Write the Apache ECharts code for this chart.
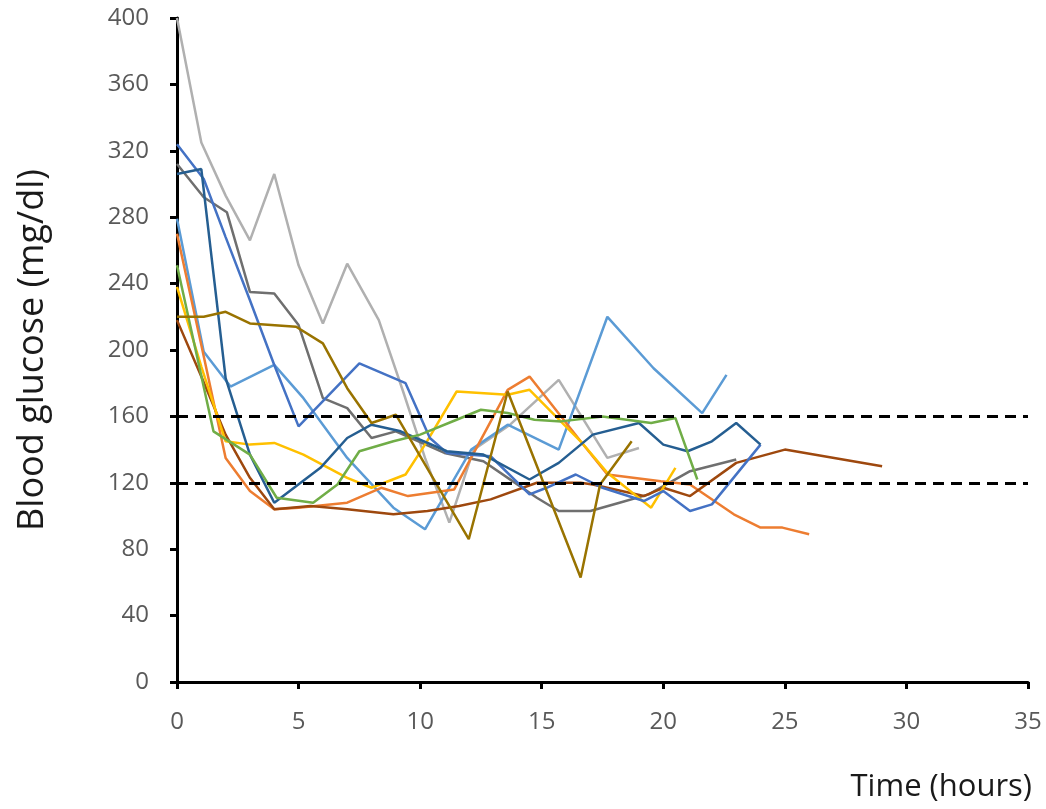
<!DOCTYPE html>
<html>
<head>
<meta charset="utf-8">
<script src="https://cdn.jsdelivr.net/npm/echarts@6/dist/echarts.min.js"></script>
<style>html,body{margin:0;padding:0;background:#fff}#chart{width:1046px;height:809px}</style>
</head>
<body>
<div id="chart"></div>
<script>
// Reference band limits (mg/dl)
var targetLow = 120;
var targetHigh = 160;

// Patient series: [time (hours), blood glucose (mg/dl)]
var lightGray = [[0,400],[1,325],[2,293],[3,266],[4,306],[5,251],[6,216],[7,252],[8.3,218],[9.3,175],[10.2,135],[11.2,96],[12.2,140],[13.7,155],[15.7,182],[17.7,135],[19,141]];
var darkGray = [[0,312],[1.1,292],[2.05,283],[3,235],[4,234],[5,215],[6,171],[7,165],[8,147],[9,151],[11,138],[12.6,133],[13.8,121],[14.8,111],[15.7,103],[17,103],[18.2,108],[19.4,113],[21.1,127],[23,134]];
var lightBlue = [[0,279],[1.1,199],[2.2,178],[4,191],[5.2,171],[7,135],[8.9,105],[10.2,92],[12.1,140],[13.6,155],[15.7,140],[17.7,220],[19.6,189],[21.6,162],[22.6,185]];
var orange = [[0,270],[1,203],[2,135],[3,115],[4,104],[5,105],[7,108],[8.4,117],[9.5,112],[11.4,116],[13.6,176],[14.5,184],[16.6,145],[17.7,125],[19.9,121],[21.1,119],[22.9,101],[24,93],[24.9,93],[26,89]];
var brown = [[0,218],[1,184],[2,149],[3,123],[4,104],[5.5,106],[7,104],[8.9,101],[10.3,103],[11.6,106],[12.9,110],[14.8,120],[16.6,120],[17.1,119],[19.2,112],[20,117],[21.1,112],[23,132],[25,140],[29,130]];
var yellow = [[0,238],[1,190],[2,145],[3,143],[4,144],[5.2,137],[7,123],[8,117],[9.4,125],[10.2,143],[11.5,175],[13.6,173],[14.5,176],[16.6,145],[17.7,126],[19.5,105],[20.5,129]];
var mediumBlue = [[0,324],[1.1,303],[2,268],[3,230],[4,191],[5,154],[7.5,192],[9.4,180],[10.4,147],[11.1,138],[12.9,136],[14.5,113],[15.2,117],[16.4,125],[17.5,117],[19.2,109],[20,115],[21.1,103],[22,107],[24,143]];
var navy = [[0,306],[1,309],[2,183],[3,137],[4,108],[5.9,129],[7,147],[8,155],[9.2,151],[11.1,139],[12.6,137],[14.5,122],[15.7,132],[17.1,149],[19,156],[20,143],[21,139],[22,145],[23,156],[24,143]];
var green = [[0,251],[1.5,151],[3,137],[4.1,111],[5.6,108],[6.6,119],[7.5,139],[8.9,145],[10,149],[11.5,158],[12.5,164],[13.6,162],[14.7,158],[15.8,157],[17.5,160],[19.5,156],[20.5,159],[21.4,122]];
var olive = [[0,220],[1.1,220],[2,223],[3,216],[4.9,214],[6,204],[7,177],[8,156],[9,161],[12,86],[13.6,175],[16.6,63],[17.4,119],[18.7,145]];

// Axis ticks
var xTicks = {min: 0, max: 35, interval: 5};
var yTicks = {min: 0, max: 400, interval: 40};

var seriesList = [
  {data: lightGray, color: '#B0B0B0'},
  {data: darkGray, color: '#6F6F6F'},
  {data: lightBlue, color: '#5B9BD5'},
  {data: orange, color: '#ED7D31'},
  {data: brown, color: '#9E480E'},
  {data: yellow, color: '#FFC000'},
  {data: mediumBlue, color: '#4472C4'},
  {data: navy, color: '#255E91'},
  {data: green, color: '#70AD47'},
  {data: olive, color: '#997300'}
];

var series = seriesList.map(function (s) {
  return {
    type: 'line',
    data: s.data,
    symbol: 'none',
    smooth: false,
    lineStyle: {color: s.color, width: 2.5},
    itemStyle: {color: s.color},
    z: 2
  };
});
series[0].markLine = {
  silent: true,
  symbol: 'none',
  label: {show: false},
  lineStyle: {color: '#000', width: 2.8, type: [11, 7]},
  data: [{yAxis: targetLow}, {yAxis: targetHigh}],
  z: 5
};

var chart = echarts.init(document.getElementById('chart'));
chart.setOption({
  animation: false,
  backgroundColor: '#fff',
  grid: {left: 177, right: 18, top: 18, bottom: 127},
  xAxis: {
    type: 'value',
    min: xTicks.min, max: xTicks.max, interval: xTicks.interval,
    name: 'Time (hours)',
    nameLocation: 'end',
    nameGap: 4,
    nameTextStyle: {fontFamily: 'Open Sans', fontSize: 31, color: '#1a1a1a', align: 'right', verticalAlign: 'top', padding: [90, 0, 0, 0]},
    axisLine: {show: true, lineStyle: {color: '#000', width: 3}},
    axisTick: {show: true, length: 7, inside: false, lineStyle: {color: '#000', width: 3}},
    axisLabel: {fontFamily: 'Open Sans', fontSize: 24, color: '#595959', margin: 28},
    splitLine: {show: false}
  },
  yAxis: {
    type: 'value',
    min: yTicks.min, max: yTicks.max, interval: yTicks.interval,
    name: 'Blood glucose (mg/dl)',
    nameLocation: 'middle',
    nameGap: 126,
    nameRotate: 90,
    nameTextStyle: {fontFamily: 'Open Sans', fontSize: 36, color: '#1a1a1a'},
    axisLine: {show: true, lineStyle: {color: '#000', width: 3}},
    axisTick: {show: true, length: 7, inside: false, lineStyle: {color: '#000', width: 3}},
    axisLabel: {fontFamily: 'Open Sans', fontSize: 24, color: '#595959', margin: 28},
    splitLine: {show: false}
  },
  series: series
});
</script>
</body>
</html>
